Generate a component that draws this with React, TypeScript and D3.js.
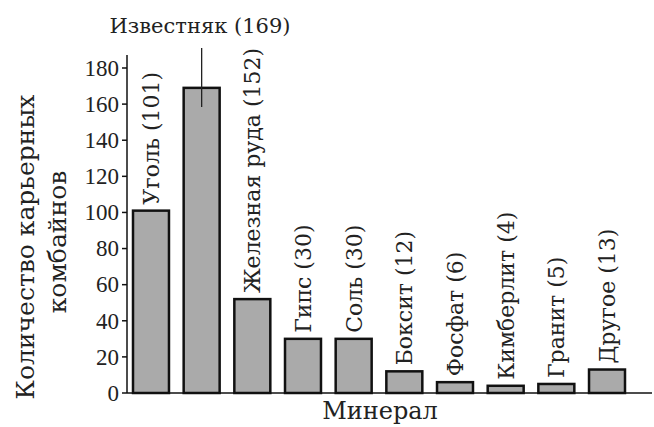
import React from "react";
import * as d3 from "d3";

const minerals = ["Уголь", "Известняк", "Железная руда", "Гипс", "Соль", "Боксит", "Фосфат", "Кимберлит", "Гранит", "Другое"];
const counts = [101, 169, 52, 30, 30, 12, 6, 4, 5, 13];
const barLabels = ["Уголь (101)", "Известняк (169)", "Железная руда (152)", "Гипс (30)", "Соль (30)", "Боксит (12)", "Фосфат (6)", "Кимберлит (4)", "Гранит (5)", "Другое (13)"];
const yTicks = [0, 20, 40, 60, 80, 100, 120, 140, 160, 180];

const W = 654;
const H = 427;
// Cyrillic text needs a serif face that carries those glyphs
const TEXT_FONT = "DejaVu Serif, serif";
const NUM_FONT = "Liberation Serif, Times New Roman, serif";

export default function App() {
  const x0 = 127;
  const y0 = 393;
  const y = d3.scaleLinear().domain([0, 180]).range([y0, 68]);
  const x = d3
    .scaleBand<string>()
    .domain(minerals)
    .range([125.4, 632.6])
    .paddingInner(0.29)
    .paddingOuter(0.15);
  const bw = x.bandwidth();
  const ink = "#222";

  return (
    <svg
      width={W}
      height={H}
      style={{ position: "absolute", left: 0, top: 0, background: "#fff" }}
    >
      {/* bars */}
      {minerals.map((m, i) => (
        <rect
          key={m}
          x={x(m)!}
          y={y(counts[i])}
          width={bw}
          height={y0 - y(counts[i])}
          fill="#aaaaaa"
          stroke="#111"
          strokeWidth={2.5}
        />
      ))}

      {/* rotated bar labels (Известняк is labelled above with a leader line) */}
      {minerals.map((m, i) => {
        if (i === 1) return null;
        const cx = x(m)! + bw / 2;
        const ty = y(counts[i]) - 6;
        return (
          <text
            key={m}
            transform={`translate(${cx},${ty}) rotate(-90)`}
            dy="0.36em"
            fontSize={22}
            fill={ink}
            style={{ fontFamily: TEXT_FONT }}
          >
            {barLabels[i]}
          </text>
        );
      })}
      {(() => {
        const cx = x(minerals[1])! + bw / 2;
        return (
          <g>
            <line x1={cx} x2={cx} y1={48} y2={107} stroke={ink} strokeWidth={1.3} />
            <text x={200} y={33} textAnchor="middle" fontSize={21} fill={ink} style={{ fontFamily: TEXT_FONT }}>
              {barLabels[1]}
            </text>
          </g>
        );
      })()}

      {/* y axis */}
      <line x1={x0} x2={x0} y1={55} y2={y0} stroke="#111" strokeWidth={1.5} />
      {yTicks.map((t) => (
        <g key={t}>
          <line x1={x0 - 5} x2={x0} y1={y(t)} y2={y(t)} stroke="#111" strokeWidth={1.5} />
          <text
            x={x0 - 8}
            y={y(t)}
            dy="0.34em"
            textAnchor="end"
            fontSize={23}
            fill={ink}
            style={{ fontFamily: NUM_FONT }}
          >
            {t}
          </text>
        </g>
      ))}

      {/* x axis */}
      <line x1={x0} x2={652} y1={y0} y2={y0} stroke="#111" strokeWidth={1.5} />

      {/* axis titles */}
      <text x={380} y={419} textAnchor="middle" fontSize={24} fill={ink} style={{ fontFamily: TEXT_FONT }}>
        Минерал
      </text>
      <text
        transform="translate(25,247) rotate(-90)"
        textAnchor="middle"
        dy="0.36em"
        fontSize={25}
        fill={ink}
        style={{ fontFamily: TEXT_FONT }}
      >
        Количество карьерных
      </text>
      <text
        transform="translate(57,242) rotate(-90)"
        textAnchor="middle"
        dy="0.36em"
        fontSize={25}
        fill={ink}
        style={{ fontFamily: TEXT_FONT }}
      >
        комбайнов
      </text>
    </svg>
  );
}
